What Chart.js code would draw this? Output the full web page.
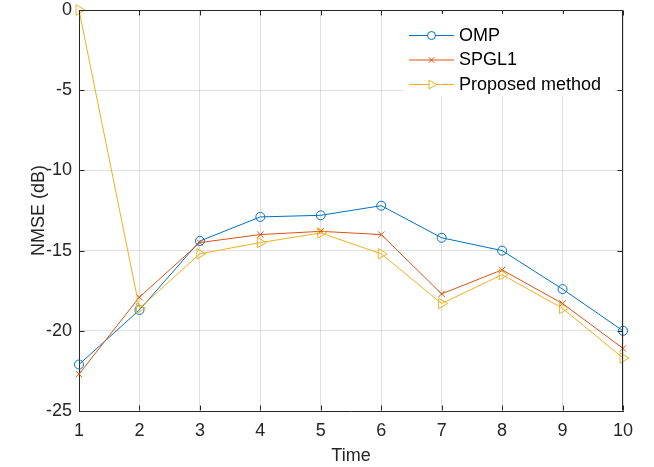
<!DOCTYPE html>
<html>
<head>
<meta charset="utf-8">
<script src="https://cdn.jsdelivr.net/npm/chart.js@4/dist/chart.umd.min.js"></script>
<style>
  html, body { margin: 0; padding: 0; background: #fff; }
  #nmse-chart { display: block; }
</style>
</head>
<body>
<canvas id="nmse-chart" width="654" height="467"></canvas>
<script>
(function() {

  // time steps on the x axis
  var times = ['1', '2', '3', '4', '5', '6', '7', '8', '9', '10'];

  // NMSE (dB) per method
  var ompValues      = [-22.1, -18.7, -14.4, -12.9, -12.8, -12.2, -14.2, -15.0, -17.4, -20.0];
  var spgl1Values    = [-22.7, -17.9, -14.5, -14.0, -13.8, -14.0, -17.7, -16.2, -18.3, -21.1];
  var proposedValues = [0, -18.6, -15.2, -14.5, -13.9, -15.2, -18.3, -16.5, -18.6, -21.7];

  var yTicks = [-25, -20, -15, -10, -5, 0];

  var axisColor = '#262626';
  var gridColor = 'rgba(38,38,38,0.15)';
  var fontFamily = '"Liberation Sans", Arial, Helvetica, sans-serif';

  /// PLUGINS ///

  // matlab style box with ticks pointing inward on all four sides
  var boxPlugin = {
    id: 'matlabBox',
    afterDatasetsDraw: function(chart) {
      var ctx = chart.ctx;
      var a = chart.chartArea;
      var xs = chart.scales.x, ys = chart.scales.y;
      var L = Math.round(a.left) + 0.5, R = Math.round(a.right) - 0.5;
      var T = Math.round(a.top) + 0.5, B = Math.round(a.bottom) - 0.5;
      ctx.save();
      ctx.strokeStyle = axisColor;
      ctx.lineWidth = 1;
      ctx.beginPath();
      ctx.moveTo(L, T); ctx.lineTo(R, T); ctx.lineTo(R, B);
      times.forEach(function(t, i) {
        var px = Math.round(xs.getPixelForValue(i)) + 0.5;
        ctx.moveTo(px, B); ctx.lineTo(px, B - 5);
        ctx.moveTo(px, T); ctx.lineTo(px, T + 5);
      });
      yTicks.forEach(function(v) {
        var py = Math.round(ys.getPixelForValue(v)) + 0.5;
        ctx.moveTo(L, py); ctx.lineTo(L + 5, py);
        ctx.moveTo(R, py); ctx.lineTo(R - 5, py);
      });
      ctx.stroke();
      ctx.restore();
    }
  };

  // legend drawn inside the upper right corner of the axes
  var legendPlugin = {
    id: 'insideLegend',
    afterDraw: function(chart) {
      var ctx = chart.ctx;
      var sets = chart.data.datasets;
      ctx.save();
      ctx.fillStyle = '#fff';
      ctx.fillRect(403, 14, 212, 82);
      ctx.font = '18px ' + fontFamily;
      ctx.textBaseline = 'middle';
      sets.forEach(function(ds, i) {
        var y = 35 + i * 24.5;
        ctx.strokeStyle = ds.borderColor;
        ctx.lineWidth = 1;
        ctx.beginPath();
        ctx.moveTo(409, y + 0.5); ctx.lineTo(454, y + 0.5);
        ctx.stroke();
        ctx.fillStyle = '#fff';
        Chart.helpers.drawPoint(ctx, {
          pointStyle: ds.pointStyle,
          rotation: ds.pointRotation || 0,
          radius: ds.pointStyle === 'triangle' ? 5 : 4,
          borderWidth: 1
        }, 431.5, y + 0.5);
        ctx.fillStyle = '#000';
        ctx.fillText(ds.label, 459, y + 1);
      });
      ctx.restore();
    }
  };

  /// CHART ///

  var data = {
    labels: times,
    datasets: [
      {
        label: 'OMP',
        data: ompValues,
        borderColor: '#0072BD',
        pointStyle: 'circle',
        pointRadius: 4.5,
        order: 3
      },
      {
        label: 'SPGL1',
        data: spgl1Values,
        borderColor: '#D95319',
        pointStyle: 'crossRot',
        pointRadius: 4.5,
        order: 2
      },
      {
        label: 'Proposed method',
        data: proposedValues,
        borderColor: '#EDB120',
        pointStyle: 'triangle',
        pointRotation: 90,
        pointRadius: 6,
        order: 1
      }
    ]
  };

  data.datasets.forEach(function(ds) {
    ds.borderWidth = 1;
    ds.pointBorderColor = ds.borderColor;
    ds.pointBackgroundColor = 'rgba(0,0,0,0)';
    ds.pointBorderWidth = 1;
    ds.backgroundColor = ds.borderColor;
    ds.fill = false;
    ds.tension = 0;
  });

  var ctx = document.getElementById('nmse-chart').getContext('2d');
  var nmseChart = new Chart(ctx, {
    type: 'line',
    data: data,
    options: {
      responsive: false,
      animation: false,
      clip: false,
      layout: { padding: { left: 0, top: 10, right: 31, bottom: 0 } },
      plugins: {
        legend: { display: false },
        tooltip: { enabled: false }
      },
      scales: {
        x: {
          type: 'category',
          offset: false,
          grid: { color: gridColor, drawTicks: false },
          border: { color: axisColor, width: 1 },
          ticks: {
            color: axisColor,
            padding: 9,
            maxRotation: 0,
            autoSkip: false,
            font: { family: fontFamily, size: 18 }
          },
          title: {
            display: true,
            text: 'Time',
            color: axisColor,
            padding: { top: 0, bottom: 0 },
            font: { family: fontFamily, size: 18 }
          },
          afterFit: function(scale) {
            scale.height = 56;
            scale.paddingLeft = 0;
            scale.paddingRight = 0;
          }
        },
        y: {
          min: -25,
          max: 0,
          grid: { color: gridColor, drawTicks: false },
          border: { color: axisColor, width: 1 },
          ticks: {
            color: axisColor,
            padding: 7,
            stepSize: 5,
            font: { family: fontFamily, size: 18 }
          },
          title: {
            display: true,
            text: 'NMSE (dB)',
            color: axisColor,
            padding: { top: 28, bottom: 0 },
            font: { family: fontFamily, size: 18 }
          },
          afterFit: function(scale) {
            scale.width = 79;
            scale.paddingTop = 0;
            scale.paddingBottom = 0;
          }
        }
      }
    },
    plugins: [boxPlugin, legendPlugin]
  });

})();
</script>
</body>
</html>
